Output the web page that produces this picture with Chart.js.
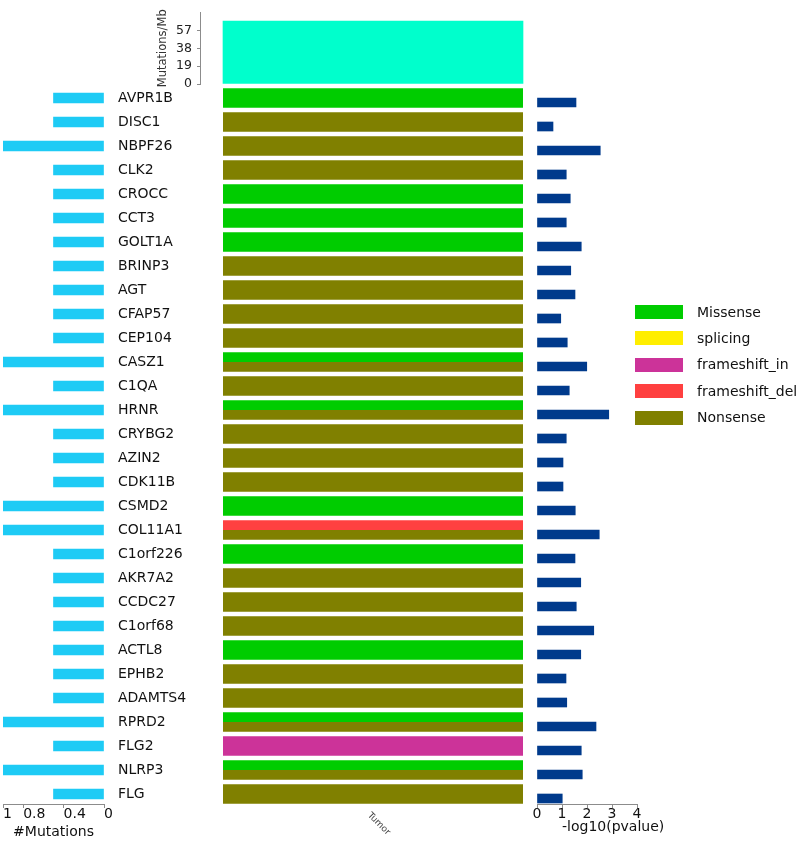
<!DOCTYPE html>
<html>
<head>
<meta charset="utf-8">
<script src="https://cdn.jsdelivr.net/npm/chart.js@4.4.1/dist/chart.umd.min.js"></script>
<style>
    body { margin: 0; background: #fff; width: 803px; height: 841px; position: relative; overflow: hidden; font-family: "DejaVu Sans", Verdana, sans-serif; }
    canvas { position: absolute; top: 0; }
    .txt { position: absolute; white-space: nowrap; color: #111; }
    #pvalTitle { left: 562px; top: 818px; font-size: 14px; line-height: 17px; }
    #sampleLabel { left: 373px; top: 810px; font-size: 9px; line-height: 10px; color: #444; transform: rotate(45deg); transform-origin: 0 0; }
    .legendBox { position: absolute; width: 48px; height: 14px; }
    .legendText { position: absolute; font-size: 14px; line-height: 17px; color: #111; white-space: nowrap; }
</style>
</head>
<body>
<canvas id="mutCount" width="118" height="841" style="left:0px"></canvas>
<canvas id="tiles" width="405" height="841" style="left:118px"></canvas>
<canvas id="tmb" width="404" height="100" style="left:156px"></canvas>
<canvas id="pvalues" width="120" height="841" style="left:530px"></canvas>
<div class="txt" id="pvalTitle">-log10(pvalue)</div>
<div class="txt" id="sampleLabel">Tumor</div>
<div id="legend"></div>

<script>
// Data
const genes = ["AVPR1B", "DISC1", "NBPF26", "CLK2", "CROCC", "CCT3", "GOLT1A", "BRINP3", "AGT", "CFAP57",
    "CEP104", "CASZ1", "C1QA", "HRNR", "CRYBG2", "AZIN2", "CDK11B", "CSMD2", "COL11A1", "C1orf226",
    "AKR7A2", "CCDC27", "C1orf68", "ACTL8", "EPHB2", "ADAMTS4", "RPRD2", "FLG2", "NLRP3", "FLG"];

const mutationCounts = [0.5, 0.5, 1, 0.5, 0.5, 0.5, 0.5, 0.5, 0.5, 0.5,
    0.5, 1, 0.5, 1, 0.5, 0.5, 0.5, 1, 1, 0.5,
    0.5, 0.5, 0.5, 0.5, 0.5, 0.5, 1, 0.5, 1, 0.5];

const pValues = [1.56, 0.64, 2.53, 1.17, 1.33, 1.17, 1.77, 1.35, 1.52, 0.95,
    1.21, 1.99, 1.29, 2.87, 1.17, 1.04, 1.04, 1.53, 2.49, 1.52,
    1.75, 1.57, 2.27, 1.75, 1.16, 1.19, 2.36, 1.77, 1.81, 1.01];

// upper and lower half of each tile (same type twice = single type)
const firstHit = ["Missense", "Nonsense", "Nonsense", "Nonsense", "Missense", "Missense", "Missense", "Nonsense", "Nonsense", "Nonsense",
    "Nonsense", "Missense", "Nonsense", "Missense", "Nonsense", "Nonsense", "Nonsense", "Missense", "frameshift_del", "Missense",
    "Nonsense", "Nonsense", "Nonsense", "Missense", "Nonsense", "Nonsense", "Missense", "frameshift_in", "Missense", "Nonsense"];
const secondHit = ["Missense", "Nonsense", "Nonsense", "Nonsense", "Missense", "Missense", "Missense", "Nonsense", "Nonsense", "Nonsense",
    "Nonsense", "Nonsense", "Nonsense", "Nonsense", "Nonsense", "Nonsense", "Nonsense", "Missense", "Nonsense", "Missense",
    "Nonsense", "Nonsense", "Nonsense", "Missense", "Nonsense", "Nonsense", "Nonsense", "frameshift_in", "Nonsense", "Nonsense"];

const mutationTypes = ["Missense", "splicing", "frameshift_in", "frameshift_del", "Nonsense"];
const typeColors = ["#00CC00", "#FFEE00", "#CC3399", "#FF4040", "#808000"];

const sampleNames = ["Tumor"];
const tmbValues = [67];
const tmbTicks = [0, 19, 38, 57];
const countTicks = [0, 0.4, 0.8, 1];

Chart.defaults.font.family = "'DejaVu Sans', Verdana, sans-serif";
Chart.defaults.animation = false;
Chart.defaults.responsive = false;
Chart.defaults.plugins.legend.display = false;
Chart.defaults.plugins.tooltip.enabled = false;

const colorOf = type => typeColors[mutationTypes.indexOf(type)];
const axisGray = "#8c8c8c";

// Left: number of mutations (reversed)
new Chart(document.getElementById("mutCount"), {
    type: "bar",
    data: {
        datasets: [{
            data: genes.map((g, i) => ({ x: mutationCounts[i], y: i })),
            backgroundColor: "#1ECBF5",
            barThickness: 10
        }]
    },
    options: {
        indexAxis: "y",
        layout: { padding: { left: 3, right: 14, top: 86, bottom: 0 } },
        scales: {
            x: {
                reverse: true, min: 0, max: 1,
                afterBuildTicks: s => { s.ticks = countTicks.map(v => ({ value: v })) },
                ticks: { align: "start", color: "#111", font: { size: 14 }, padding: -2, callback: v => `${v}` },
                grid: { drawOnChartArea: false, tickLength: 4, color: axisGray },
                border: { color: axisGray },
                title: { display: true, text: "#Mutations", color: "#111", font: { size: 14 }, padding: 0 },
                afterFit: s => { s.height = 37 }
            },
            y: { type: "linear", display: false, offset: false, reverse: true, min: -0.5, max: 29.417 }
        }
    }
});

// Middle: tiles with gene names
new Chart(document.getElementById("tiles"), {
    type: "bar",
    data: {
        labels: genes,
        datasets: [
            { data: genes.map(() => 1), backgroundColor: firstHit.map(colorOf) },
            { data: genes.map(() => 1), backgroundColor: secondHit.map(colorOf) }
        ]
    },
    options: {
        indexAxis: "y",
        datasets: { bar: { categoryPercentage: 0.82, barPercentage: 1 } },
        layout: { padding: { left: 0, right: 0, top: 86, bottom: 35 } },
        scales: {
            x: { display: false, min: 0, max: 1 },
            y: {
                grid: { display: false },
                border: { display: false },
                ticks: { crossAlign: "far", color: "#111", font: { size: 14 }, padding: 0 },
                afterFit: s => { s.width = 105 }
            }
        }
    }
});

// Top: mutations per Mb
new Chart(document.getElementById("tmb"), {
    type: "bar",
    data: {
        labels: sampleNames,
        datasets: [{ data: tmbValues, backgroundColor: "#00FFCC", barThickness: 300 }]
    },
    options: {
        layout: { padding: { left: 0, right: 14, top: 9.5, bottom: 16 } },
        scales: {
            x: { display: false, offset: true },
            y: {
                min: 0, max: 76,
                afterBuildTicks: s => { s.ticks = tmbTicks.map(v => ({ value: v })) },
                ticks: { color: "#222", font: { size: 12.5 }, padding: 5 },
                grid: { drawOnChartArea: false, tickLength: 3, color: axisGray },
                border: { color: axisGray },
                title: { display: true, text: "Mutations/Mb", color: "#333", font: { size: 11.5 }, padding: 0 },
                afterFit: s => { s.width = 44 }
            }
        }
    }
});

// Right: -log10(pvalue)
new Chart(document.getElementById("pvalues"), {
    type: "bar",
    data: {
        datasets: [{
            data: genes.map((g, i) => ({ x: pValues[i], y: i })),
            backgroundColor: "#003A8C",
            barThickness: 9
        }]
    },
    options: {
        indexAxis: "y",
        layout: { padding: { left: 7, right: 13, top: 86, bottom: 0 } },
        scales: {
            x: {
                min: 0, max: 4,
                ticks: { stepSize: 1, color: "#111", font: { size: 14 }, padding: -2 },
                grid: { drawOnChartArea: false, tickLength: 4, color: axisGray },
                border: { color: axisGray },
                afterFit: s => { s.height = 37 }
            },
            y: { type: "linear", display: false, offset: false, reverse: true, min: -0.6875, max: 29.229 }
        }
    }
});

// Legend
const legend = document.getElementById("legend");
mutationTypes.forEach((type, i) => {
    const top = 305 + i * 26.4;
    legend.insertAdjacentHTML("beforeend",
        `<div class="legendBox" style="left:635px;top:${top}px;background:${typeColors[i]}"></div>
         <div class="legendText" style="left:697px;top:${top - 1.5}px">${type}</div>`);
});
</script>
</body>
</html>
